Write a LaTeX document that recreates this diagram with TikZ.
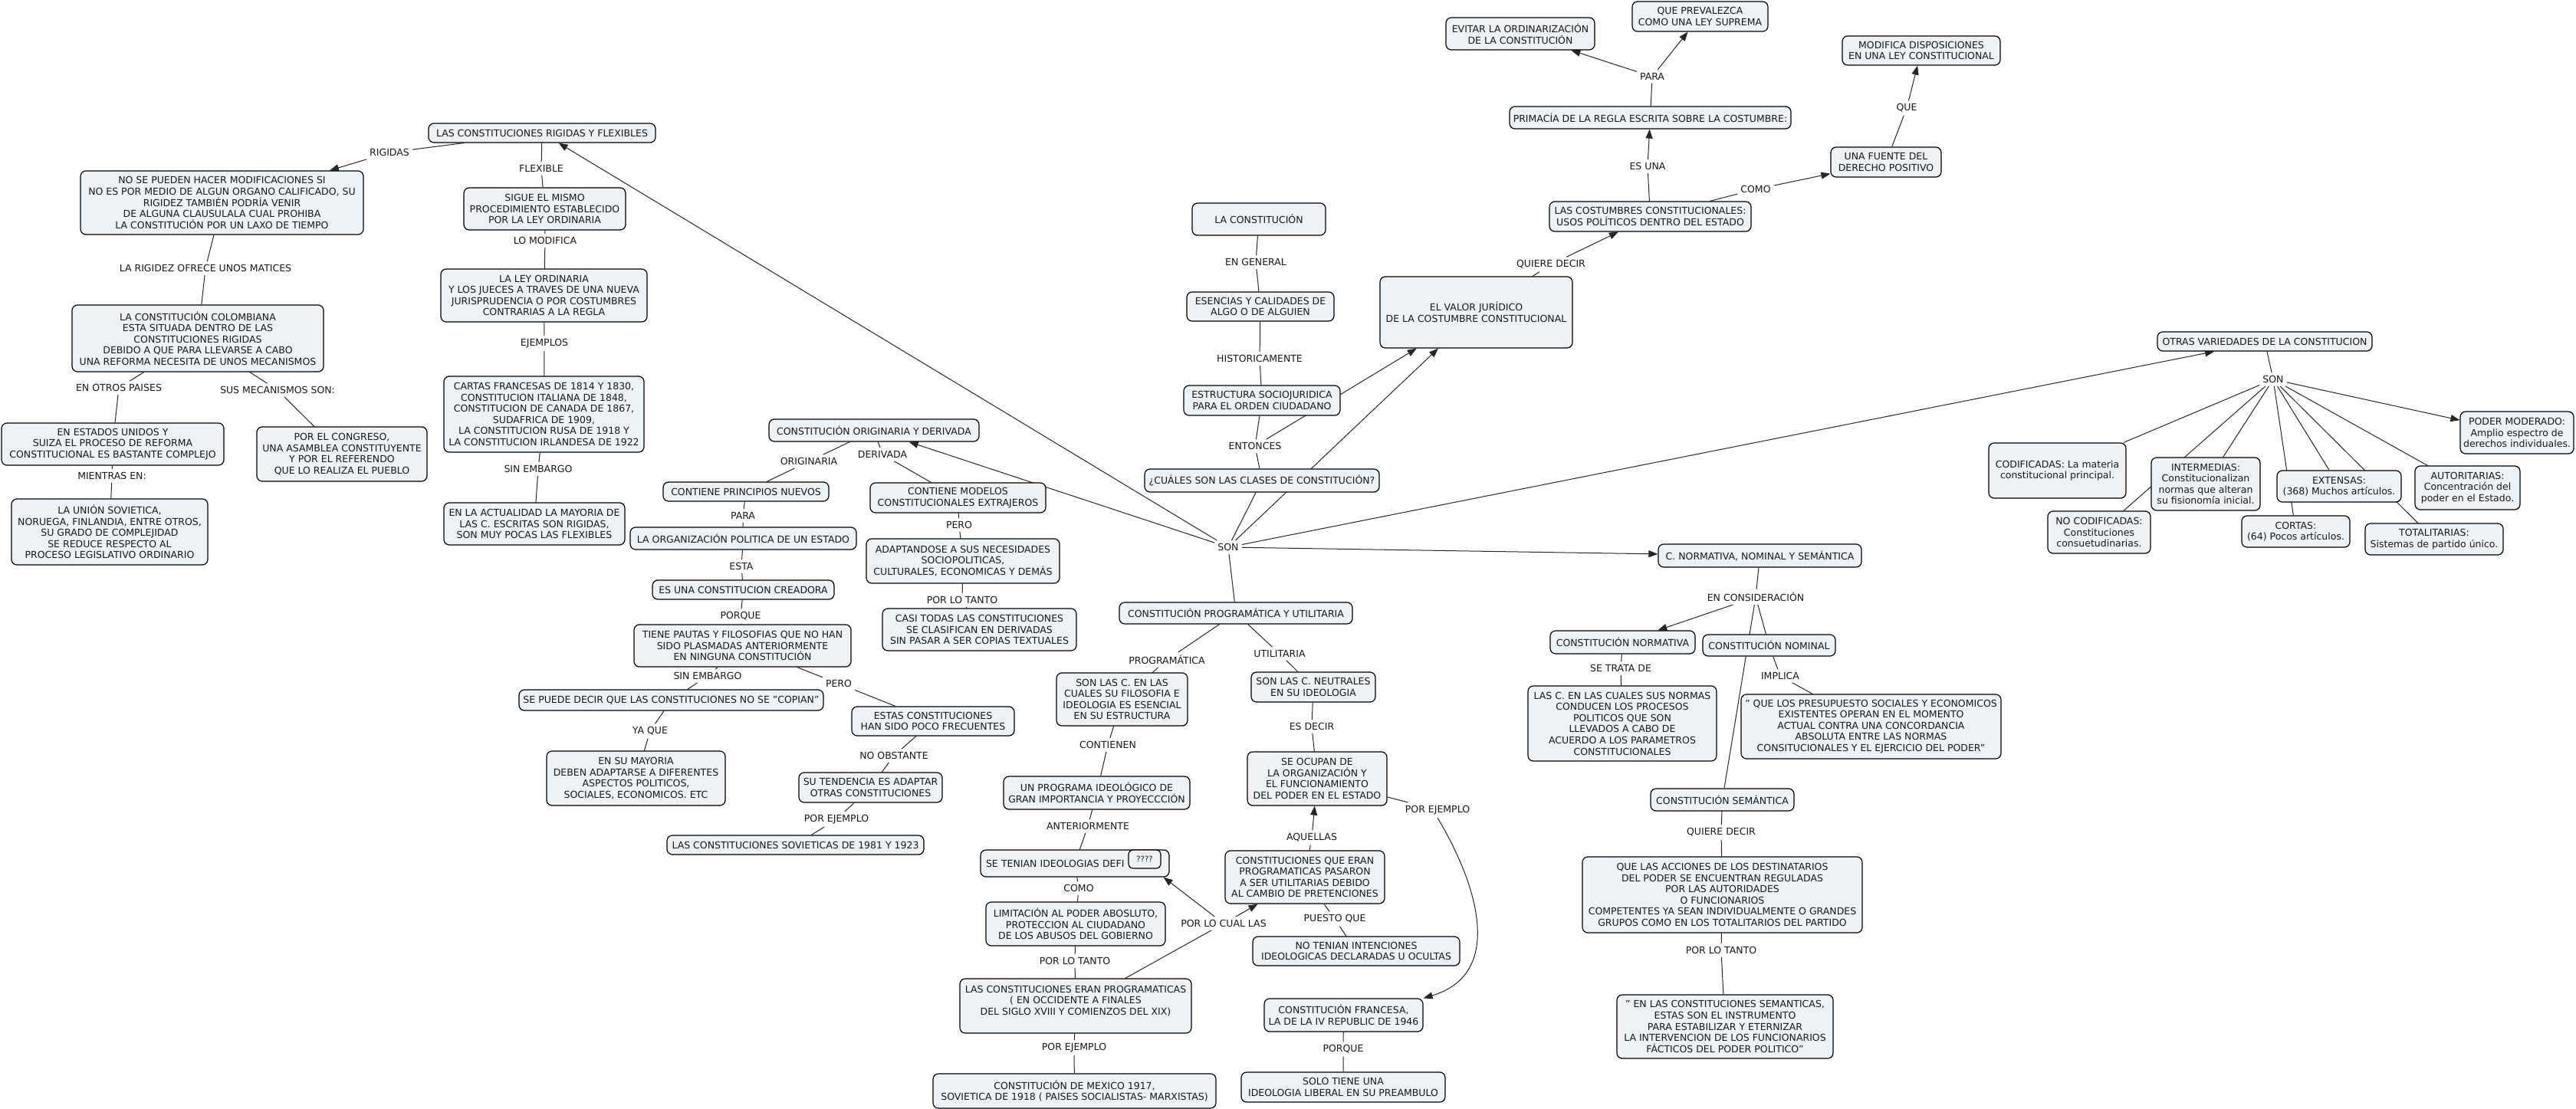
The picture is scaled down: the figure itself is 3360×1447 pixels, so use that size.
\documentclass[tikz,border=0pt]{standalone}
\usepackage{fontspec}
\setmainfont{DejaVu Sans}
\usetikzlibrary{arrows.meta,backgrounds,calc}
\definecolor{boxfill}{RGB}{236,242,245}
\definecolor{txt}{RGB}{25,25,25}
\tikzset{
  box/.style={draw=black, line width=1.2pt, rounded corners=7pt, fill=boxfill, align=center, inner xsep=4pt, inner ysep=3pt, text=txt},
  lbl/.style={inner sep=4pt, text=txt},
  link/.style={line width=1pt, draw=black!85},
  arr/.style={link, -{Triangle[length=12pt,width=9pt]}},
}
\newcommand{\mkbox}[6]{\node[box,minimum width=#4pt,minimum height=#5pt] (#1) at (#2,#3) {#6};}
\newcommand{\mklbl}[4]{\node[lbl] (#1) at (#2,#3) {#4};}
\begin{document}
\begin{tikzpicture}[x=1pt,y=-1pt,font=\fontsize{12.5}{14.6}\selectfont]
\useasboundingbox (0,0) rectangle (3360,1447);
% ---------- left
\mkbox{rf}{707}{173.5}{296}{25}{LAS CONSTITUCIONES RIGIDAS Y FLEXIBLES}
\mkbox{rig}{289.5}{264.5}{369}{83}{NO SE PUEDEN HACER MODIFICACIONES SI\\NO ES POR MEDIO DE ALGUN ORGANO CALIFICADO, SU\\RIGIDEZ TAMBIÉN PODRÍA VENIR\\DE ALGUNA CLAUSULALA CUAL PROHIBA\\LA CONSTITUCIÓN POR UN LAXO DE TIEMPO}
\mkbox{col}{258}{441.5}{328}{87}{LA CONSTITUCIÓN COLOMBIANA\\ESTA SITUADA DENTRO DE LAS\\CONSTITUCIONES RIGIDAS\\DEBIDO A QUE PARA LLEVARSE A CABO\\UNA REFORMA NECESITA DE UNOS MECANISMOS}
\mkbox{eu}{147}{579.5}{290}{55}{EN ESTADOS UNIDOS Y\\SUIZA EL PROCESO DE REFORMA\\CONSTITUCIONAL ES BASTANTE COMPLEJO}
\mkbox{us}{143}{694}{256}{86}{LA UNIÓN SOVIETICA,\\NORUEGA, FINLANDIA, ENTRE OTROS,\\SU GRADO DE COMPLEJIDAD\\SE REDUCE RESPECTO AL\\PROCESO LEGISLATIVO ORDINARIO}
\mkbox{cong}{446}{592.5}{222}{71}{POR EL CONGRESO,\\UNA ASAMBLEA CONSTITUYENTE\\Y POR EL REFERENDO\\QUE LO REALIZA EL PUEBLO}
\mkbox{sigue}{710.5}{272.5}{211}{55}{SIGUE EL MISMO\\PROCEDIMIENTO ESTABLECIDO\\POR LA LEY ORDINARIA}
\mkbox{ley}{709.5}{385.5}{269}{69}{LA LEY ORDINARIA\\Y LOS JUECES A TRAVES DE UNA NUEVA\\JURISPRUDENCIA O POR COSTUMBRES\\CONTRARIAS A LA REGLA}
\mkbox{cartas}{709.5}{540.5}{261}{99}{CARTAS FRANCESAS DE 1814 Y 1830,\\CONSTITUCION ITALIANA DE 1848,\\CONSTITUCION DE CANADA DE 1867,\\SUDAFRICA DE 1909,\\LA CONSTITUCION RUSA DE 1918 Y\\LA CONSTITUCION IRLANDESA DE 1922}
\mkbox{actual}{697}{683.5}{236}{55}{EN LA ACTUALIDAD LA MAYORIA DE\\LAS C. ESCRITAS SON RIGIDAS,\\SON MUY POCAS LAS FLEXIBLES}
% ---------- mid-left
\mkbox{ori}{1140}{561.5}{274}{29}{CONSTITUCIÓN ORIGINARIA Y DERIVADA}
\mkbox{cpn}{973}{641.5}{216}{25}{CONTIENE PRINCIPIOS NUEVOS}
\mkbox{cme}{1249.5}{649.5}{229}{39}{CONTIENE MODELOS\\CONSTITUCIONALES EXTRAJEROS}
\mkbox{org}{969.5}{702.5}{295}{29}{LA ORGANIZACIÓN POLITICA DE UN ESTADO}
\mkbox{adapt}{1256}{732}{252}{58}{ADAPTANDOSE A SUS NECESIDADES\\SOCIOPOLITICAS,\\CULTURALES, ECONOMICAS Y DEMÁS}
\mkbox{cread}{969.5}{769.5}{237}{25}{ES UNA CONSTITUCION CREADORA}
\mkbox{casi}{1277.5}{821.5}{253}{55}{CASI TODAS LAS CONSTITUCIONES\\SE CLASIFICAN EN DERIVADAS\\SIN PASAR A SER COPIAS TEXTUALES}
\mkbox{tiene}{968.5}{842.5}{283}{55}{TIENE PAUTAS Y FILOSOFIAS QUE NO HAN\\SIDO PLASMADAS ANTERIORMENTE\\EN NINGUNA CONSTITUCIÓN}
\mkbox{copian}{875.5}{913.5}{397}{27}{SE PUEDE DECIR QUE LAS CONSTITUCIONES NO SE "COPIAN"}
\mkbox{poco}{1217}{941}{212}{38}{ESTAS CONSTITUCIONES\\HAN SIDO POCO FRECUENTES}
\mkbox{mayoria}{829.5}{1015.5}{233}{71}{EN SU MAYORIA\\DEBEN ADAPTARSE A DIFERENTES\\ASPECTOS POLITICOS,\\SOCIALES, ECONOMICOS. ETC}
\mkbox{tend}{1135.5}{1027.5}{187}{39}{SU TENDENCIA ES ADAPTAR\\OTRAS CONSTITUCIONES}
\mkbox{sov}{1037.5}{1102.5}{335}{25}{LAS CONSTITUCIONES SOVIETICAS DE 1981 Y 1923}
% ---------- center
\mkbox{lacons}{1642}{286}{174}{42}{LA CONSTITUCIÓN}
\mkbox{esen}{1644}{400}{192}{38}{ESENCIAS Y CALIDADES DE\\ALGO O DE ALGUIEN}
\mkbox{estr}{1646}{522.5}{204}{39}{ESTRUCTURA SOCIOJURIDICA\\PARA EL ORDEN CIUDADANO}
\mkbox{cuales}{1646}{627}{306}{30}{¿CUÁLES SON LAS CLASES DE CONSTITUCIÓN?}
\mkbox{valor}{1925.5}{407.5}{251}{93}{EL VALOR JURÍDICO\\DE LA COSTUMBRE CONSTITUCIONAL}
\mkbox{prog}{1612}{800}{304}{28}{CONSTITUCIÓN PROGRAMÁTICA Y UTILITARIA}
\mkbox{progc}{1463.5}{912.5}{171}{69}{SON LAS C. EN LAS\\CUALES SU FILOSOFIA E\\IDEOLOGIA ES ESENCIAL\\EN SU ESTRUCTURA}
\mkbox{neutr}{1713}{896.5}{162}{39}{SON LAS C. NEUTRALES\\EN SU IDEOLOGIA}
\mkbox{progid}{1430.5}{1034.5}{243}{43}{UN PROGRAMA IDEOLÓGICO DE\\GRAN IMPORTANCIA Y PROYECCCIÓN}
\mkbox{ocupan}{1718}{1016}{182}{70}{SE OCUPAN DE\\LA ORGANIZACIÓN Y\\EL FUNCIONAMIENTO\\DEL PODER EN EL ESTADO}
\node[box,minimum width=246pt,minimum height=35pt,text width=232pt,align=left] (ideol) at (1402,1126.5) {SE TENIAN IDEOLOGIAS DEFI};
\node[box,minimum width=42pt,minimum height=24pt,inner xsep=2pt,rounded corners=6pt,font=\fontsize{10}{12}\selectfont] (qq) at (1493,1121) {????};
\mkbox{limit}{1403}{1205.5}{234}{57}{LIMITACIÓN AL PODER ABOSLUTO,\\PROTECCION AL CIUDADANO\\DE LOS ABUSOS DEL GOBIERNO}
\mkbox{eran}{1403}{1312.5}{302}{71}{LAS CONSTITUCIONES ERAN PROGRAMATICAS\\( EN OCCIDENTE A FINALES\\DEL SIGLO XVIII Y COMIENZOS DEL XIX)\\~}
\mkbox{mex}{1401.5}{1423.5}{369}{45}{CONSTITUCIÓN DE MEXICO 1917,\\SOVIETICA DE 1918 ( PAISES SOCIALISTAS- MARXISTAS)}
\mkbox{pasaron}{1702}{1144.5}{208}{69}{CONSTITUCIONES QUE ERAN\\PROGRAMATICAS PASARON\\A SER UTILITARIAS DEBIDO\\AL CAMBIO DE PRETENCIONES}
\mkbox{notenian}{1769}{1241}{270}{38}{NO TENIAN INTENCIONES\\IDEOLOGICAS DECLARADAS U OCULTAS}
\mkbox{franc}{1752.5}{1324.5}{207}{43}{CONSTITUCIÓN FRANCESA,\\LA DE LA IV REPUBLIC DE 1946}
\mkbox{solo}{1752}{1418.5}{266}{39}{SOLO TIENE UNA\\IDEOLOGIA LIBERAL EN SU PREAMBULO}
% ---------- top
\mkbox{costum}{2152.5}{282.5}{263}{39}{LAS COSTUMBRES CONSTITUCIONALES:\\USOS POLÍTICOS DENTRO DEL ESTADO}
\mkbox{fuente}{2460}{211.5}{144}{39}{UNA FUENTE DEL\\DERECHO POSITIVO}
\mkbox{modif}{2506}{66}{206}{38}{MODIFICA DISPOSICIONES\\EN UNA LEY CONSTITUCIONAL}
\mkbox{prim}{2152.5}{153.5}{367}{29}{PRIMACÍA DE LA REGLA ESCRITA SOBRE LA COSTUMBRE:}
\mkbox{evitar}{1983}{44}{194}{42}{EVITAR LA ORDINARIZACIÓN\\DE LA CONSTITUCIÓN}
\mkbox{preval}{2217.5}{21.5}{177}{39}{QUE PREVALEZCA\\COMO UNA LEY SUPREMA}
% ---------- right
\mkbox{cnorm}{2295.5}{725}{265}{30}{C. NORMATIVA, NOMINAL Y SEMÁNTICA}
\mkbox{cnorma}{2116.5}{838}{189}{30}{CONSTITUCIÓN NORMATIVA}
\mkbox{cnom}{2307.5}{842}{173}{28}{CONSTITUCIÓN NOMINAL}
\mkbox{lasc}{2116}{944}{246}{98}{LAS C. EN LAS CUALES SUS NORMAS\\CONDUCEN LOS PROCESOS\\POLITICOS QUE SON\\LLEVADOS A CABO DE\\ACUERDO A LOS PARAMETROS\\CONSTITUCIONALES}
\mkbox{que}{2440.5}{948}{339}{84}{" QUE LOS PRESUPUESTO SOCIALES Y ECONOMICOS\\EXISTENTES OPERAN EN EL MOMENTO\\ACTUAL CONTRA UNA CONCORDANCIA\\ABSOLUTA ENTRE LAS NORMAS\\CONSITUCIONALES Y EL EJERCICIO DEL PODER"}
\mkbox{csem}{2246.5}{1043.5}{187}{29}{CONSTITUCIÓN SEMÁNTICA}
\mkbox{acc}{2246.5}{1167.5}{365}{99}{QUE LAS ACCIONES DE LOS DESTINATARIOS\\DEL PODER SE ENCUENTRAN REGULADAS\\POR LAS AUTORIDADES\\O FUNCIONARIOS\\COMPETENTES YA SEAN INDIVIDUALMENTE O GRANDES\\GRUPOS COMO EN LOS TOTALITARIOS DEL PARTIDO}
\mkbox{en}{2250}{1339.5}{282}{83}{" EN LAS CONSTITUCIONES SEMANTICAS,\\ESTAS SON EL INSTRUMENTO\\PARA ESTABILIZAR Y ETERNIZAR\\LA INTERVENCION DE LOS FUNCIONARIOS\\FÁCTICOS DEL PODER POLITICO"}
% ---------- far right
\mkbox{otras}{2954}{445.5}{280}{25}{OTRAS VARIEDADES DE LA CONSTITUCION}
\mkbox{codif}{2683.5}{614}{179}{72}{CODIFICADAS: La materia\\constitucional principal.}
\mkbox{inter}{2877}{631.5}{142}{69}{INTERMEDIAS:\\Constitucionalizan\\normas que alteran\\su fisionomía inicial.}
\mkbox{nocod}{2738}{694.5}{134}{55}{NO CODIFICADAS:\\Constituciones\\consuetudinarias.}
\mkbox{ext}{3051}{634.5}{162}{41}{EXTENSAS:\\(368) Muchos artículos.}
\mkbox{cortas}{2994.5}{693.5}{141}{41}{CORTAS:\\(64) Pocos artículos.}
\mkbox{auto}{3218.5}{636.5}{137}{57}{AUTORITARIAS:\\Concentración del\\poder en el Estado.}
\mkbox{total}{3175}{703.5}{180}{41}{TOTALITARIAS:\\Sistemas de partido único.}
\mkbox{poder}{3283}{564.5}{148}{55}{PODER MODERADO:\\Amplio espectro de\\derechos individuales.}
% ---------- labels
\mklbl{lrigidas}{508}{199}{RIGIDAS}
\mklbl{lmatices}{268}{350}{LA RIGIDEZ OFRECE UNOS MATICES}
\mklbl{lotros}{155}{506}{EN OTROS PAISES}
\mklbl{lmec}{362}{509}{SUS MECANISMOS SON:}
\mklbl{lmientras}{146}{621}{MIENTRAS EN:}
\mklbl{lflex}{706}{220}{FLEXIBLE}
\mklbl{llomod}{711}{314}{LO MODIFICA}
\mklbl{lejem}{710}{448}{EJEMPLOS}
\mklbl{lsinembA}{702}{612}{SIN EMBARGO}
\mklbl{lorig}{1055}{602}{ORIGINARIA}
\mklbl{lderiv}{1151}{593}{DERIVADA}
\mklbl{lparaA}{969}{673}{PARA}
\mklbl{lperoA}{1251}{685}{PERO}
\mklbl{lesta}{967}{739}{ESTA}
\mklbl{lpltA}{1255}{783}{POR LO TANTO}
\mklbl{lporqueA}{966}{804}{PORQUE}
\mklbl{lsinembB}{923}{882}{SIN EMBARGO}
\mklbl{lperoB}{1094}{892}{PERO}
\mklbl{lyaque}{848}{954}{YA QUE}
\mklbl{lnoobs}{1166}{986}{NO OBSTANTE}
\mklbl{lporejA}{1091}{1069}{POR EJEMPLO}
\mklbl{lson}{1602}{714}{SON}
\mklbl{lprogr}{1522}{861}{PROGRAMÁTICA}
\mklbl{lutil}{1669}{853}{UTILITARIA}
\mklbl{lcont}{1445}{972}{CONTIENEN}
\mklbl{lesdecir}{1711}{948}{ES DECIR}
\mklbl{lant}{1419}{1078}{ANTERIORMENTE}
\mklbl{laquellas}{1711}{1093}{AQUELLAS}
\mklbl{lporejB}{1875}{1057}{POR EJEMPLO}
\mklbl{lcomoB}{1407}{1159}{COMO}
\mklbl{lpltB}{1402}{1254}{POR LO TANTO}
\mklbl{lporejC}{1401}{1367}{POR EJEMPLO}
\mklbl{lplcl}{1596}{1205}{POR LO CUAL LAS}
\mklbl{lpuesto}{1741}{1199}{PUESTO QUE}
\mklbl{lporqueB}{1752}{1369}{PORQUE}
\mklbl{lengen}{1638}{342}{EN GENERAL}
\mklbl{lhist}{1643}{468}{HISTORICAMENTE}
\mklbl{lentonces}{1637}{582}{ENTONCES}
\mklbl{lqdA}{2023}{345}{QUIERE DECIR}
\mklbl{lcomoA}{2290}{247}{COMO}
\mklbl{lque}{2487}{141}{QUE}
\mklbl{lesuna}{2149}{217}{ES UNA}
\mklbl{lparaB}{2155}{100}{PARA}
\mklbl{lencons}{2290}{779}{EN CONSIDERACIÓN}
\mklbl{lsetrata}{2114}{872}{SE TRATA DE}
\mklbl{limplica}{2322}{882}{IMPLICA}
\mklbl{lqdB}{2245}{1086}{QUIERE DECIR}
\mklbl{lpltC}{2245}{1240}{POR LO TANTO}
\mklbl{lsonB}{2965}{495}{SON}
% ---------- connectors
\begin{pgfonlayer}{background}
\fill[white] (0,0) rectangle (3360,1447);
% left
\draw[link] (rf) -- (lrigidas); \draw[arr] (lrigidas) -- (rig);
\draw[link] (rf) -- (lflex) -- (sigue);
\draw[link] (sigue) -- (llomod) -- (ley);
\draw[link] (ley) -- (lejem) -- (cartas);
\draw[link] (cartas) -- (lsinembA) -- (actual);
\draw[link] (rig) -- (lmatices) -- (col);
\draw[link] (col) -- (lotros) -- (eu);
\draw[link] (col) -- (lmec) -- (cong);
\draw[link] (eu) -- (lmientras) -- (us);
% mid-left
\draw[link] (ori) -- (lorig) -- (cpn);
\draw[link] (ori) -- (lderiv) -- (cme);
\draw[link] (cpn) -- (lparaA) -- (org);
\draw[link] (org) -- (lesta) -- (cread);
\draw[link] (cread) -- (lporqueA) -- (tiene);
\draw[link] (tiene) -- (lsinembB) -- (copian);
\draw[link] (tiene) -- (lperoB) -- (poco);
\draw[link] (copian) -- (lyaque) -- (mayoria);
\draw[link] (poco) -- (lnoobs) -- (tend);
\draw[link] (tend) -- (lporejA) -- (sov);
\draw[link] (cme) -- (lperoA) -- (adapt);
\draw[link] (adapt) -- (lpltA) -- (casi);
% center
\draw[link] (lacons) -- (lengen) -- (esen);
\draw[link] (esen) -- (lhist) -- (estr);
\draw[link] (estr) -- (lentonces) -- (cuales);
\draw[arr] (lentonces) -- (valor);
\draw[link] (cuales) -- (lson);
\draw[arr] (lson) -- (rf);
\draw[arr] (lson) -- (ori);
\draw[arr] (lson) -- (valor);
\draw[arr] (lson) -- (cnorm);
\draw[arr] (lson) -- (otras);
\draw[link] (lson) -- (prog);
\draw[link] (prog) -- (lprogr) -- (progc);
\draw[link] (prog) -- (lutil) -- (neutr);
\draw[link] (progc) -- (lcont) -- (progid);
\draw[link] (neutr) -- (lesdecir) -- (ocupan);
\draw[link] (progid) -- (lant) -- (ideol);
\draw[link] (ideol) -- (lcomoB) -- (limit);
\draw[link] (limit) -- (lpltB) -- (eran);
\draw[link] (eran) -- (lporejC) -- (mex);
\draw[link] (eran) -- (lplcl);
\draw[arr] (lplcl) -- ($(ideol.south east)+(-8,0)$);
\draw[arr] (lplcl) -- (pasaron);
\draw[link] (pasaron) -- (laquellas); \draw[arr] (laquellas) -- (ocupan);
\draw[link] (pasaron) -- (lpuesto) -- (notenian);
\draw[link] (ocupan) -- (lporejB);
\draw[arr] (lporejB.south) .. controls (1925,1150) and (1965,1270) .. (franc.north east);
\draw[link] (franc) -- (lporqueB) -- (solo);
% top
\draw[link] (valor) -- (lqdA); \draw[arr] (lqdA) -- (costum);
\draw[link] (costum) -- (lesuna); \draw[arr] (lesuna) -- (prim);
\draw[link] (costum) -- (lcomoA); \draw[arr] (lcomoA) -- (fuente);
\draw[link] (fuente) -- (lque); \draw[arr] (lque) -- (modif);
\draw[link] (prim) -- (lparaB);
\draw[arr] (lparaB) -- (evitar);
\draw[arr] (lparaB) -- (preval);
% right
\draw[link] (cnorm) -- (lencons);
\draw[arr] (lencons) -- (cnorma);
\draw[link] (lencons) -- (cnom);
\draw[link] (lencons) -- (csem);
\draw[link] (cnorma) -- (lsetrata) -- (lasc);
\draw[link] (cnom) -- (limplica) -- (que);
\draw[link] (csem) -- (lqdB) -- (acc);
\draw[link] (acc) -- (lpltC) -- (en);
% far right
\draw[link] (otras) -- (lsonB);
\draw[arr] (lsonB) -- (poder);
\foreach \t in {codif,inter,nocod,ext,cortas,total,auto}
  \draw[link] (lsonB) -- (\t);
\end{pgfonlayer}
\end{tikzpicture}
\end{document}
